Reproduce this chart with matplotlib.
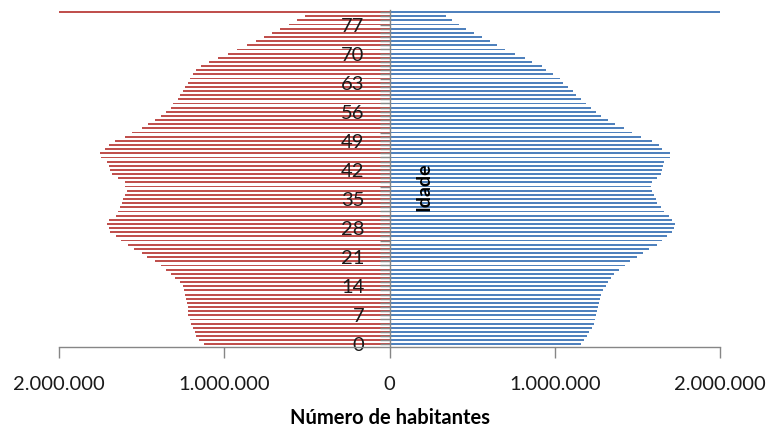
import matplotlib
matplotlib.use("Agg")
import matplotlib.pyplot as plt
import numpy as np
from matplotlib.ticker import FuncFormatter, FixedLocator

# Population by single year of age (thousands); the last class is 80+
ages = list(range(81))
age_labels = [str(a) for a in range(0, 78, 7)]

women = [1120, 1150, 1170, 1180, 1190, 1200, 1210, 1220, 1220, 1220,
         1225, 1230, 1240, 1245, 1250, 1270, 1300, 1320, 1350, 1380,
         1420, 1465, 1500, 1545, 1585, 1625, 1655, 1690, 1700, 1710,
         1700, 1655, 1645, 1630, 1620, 1610, 1600, 1590, 1600, 1600,
         1645, 1680, 1690, 1700, 1710, 1745, 1750, 1720, 1700, 1660,
         1600, 1560, 1500, 1460, 1420, 1380, 1350, 1320, 1310, 1280,
         1270, 1250, 1240, 1220, 1210, 1190, 1170, 1140, 1090, 1040,
         980, 920, 860, 810, 760, 710, 660, 610, 560, 510,
         2000]

men = [1160, 1180, 1195, 1210, 1225, 1240, 1245, 1250, 1255, 1260,
       1270, 1275, 1280, 1295, 1310, 1320, 1340, 1360, 1390, 1425,
       1455, 1500, 1535, 1570, 1620, 1650, 1680, 1710, 1720, 1730,
       1710, 1690, 1660, 1640, 1620, 1610, 1600, 1590, 1580, 1590,
       1620, 1640, 1650, 1655, 1660, 1700, 1700, 1650, 1630, 1590,
       1520, 1470, 1420, 1365, 1320, 1280, 1250, 1220, 1190, 1160,
       1130, 1110, 1080, 1050, 1030, 990, 950, 920, 860, 820,
       760, 700, 650, 610, 560, 510, 460, 420, 380, 340,
       2010]

x_ticks = [-2000000, -1000000, 0, 1000000, 2000000]

plt.rcParams['font.family'] = ['Lato', 'DejaVu Sans']
text_color = '#1a1a1a'
axis_color = '#868686'

fig = plt.figure(figsize=(7.68, 4.28), dpi=100)
ax = fig.add_axes([59 / 768, 1 - 346.5 / 428, 661 / 768, 336.5 / 428])

y = np.array(ages)
ax.barh(y, -np.array(women) * 1000, height=0.45, color='#C0504D', linewidth=0)
ax.barh(y, np.array(men) * 1000, height=0.45, color='#4F81BD', linewidth=0)

ax.set_xlim(-2000000, 2000000)
ax.set_ylim(-0.5, 80.5)

for side in ('top', 'right'):
    ax.spines[side].set_visible(False)
ax.spines['left'].set_position(('data', 0))
ax.spines['left'].set_color(axis_color)
ax.spines['bottom'].set_color(axis_color)
ax.spines['left'].set_linewidth(1.0)
ax.spines['bottom'].set_linewidth(1.0)

# Horizontal axis: absolute head counts with dot thousands separators
ax.xaxis.set_major_locator(FixedLocator(x_ticks))
ax.xaxis.set_major_formatter(FuncFormatter(
    lambda v, _: f"{abs(v):,.0f}".replace(',', '.')))
ax.tick_params(axis='x', direction='out', length=8, width=1,
               color=axis_color, labelsize=14.5, labelcolor=text_color, pad=13)

# Vertical axis: a tick for every age, labelled every 7 years
tick_labels = {int(s): s for s in age_labels}
ax.set_yticks(ages)
ax.set_yticklabels([tick_labels.get(a, '') for a in ages])
ax.tick_params(axis='y', direction='out', length=7, width=1,
               color=axis_color, labelsize=14.5, labelcolor=text_color, pad=11)

ax.text(210000, 38.0, 'Idade', rotation=90, ha='center', va='center',
        fontsize=14, fontweight='bold', color='black')
ax.set_xlabel('Número de habitantes', fontsize=14.5, fontweight='bold',
              color='black', labelpad=11)

fig.savefig('out.png', dpi=100)
